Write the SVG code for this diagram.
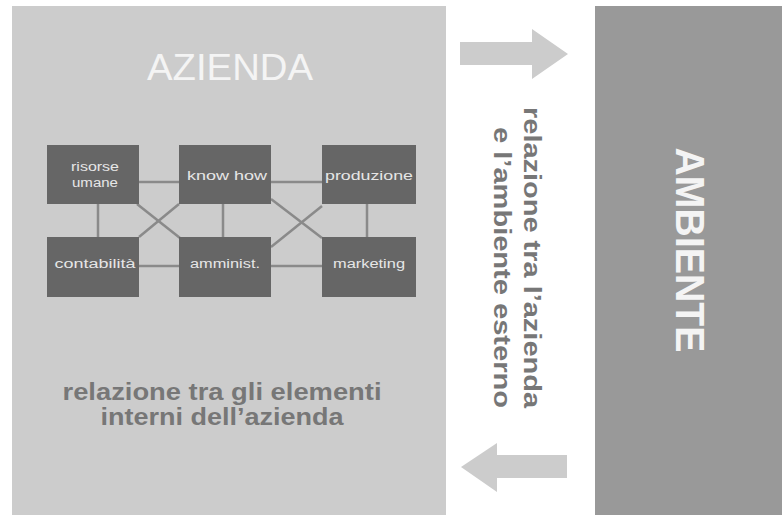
<svg xmlns="http://www.w3.org/2000/svg" width="782" height="515" viewBox="0 0 782 515">
<style>
.node rect{fill:#666666}
.node text{fill:#e6e6e6;font-family:"Liberation Sans",Arial,sans-serif;font-size:12px;text-anchor:middle}
.conn line{stroke:#8a8a8a;stroke-width:2.5}
.label{fill:#777777;font-family:"Liberation Sans",Arial,sans-serif;font-weight:bold}
.arrow{fill:#cccccc}
</style>
<rect width="782" height="515" fill="#ffffff"/>
<g id="azienda">
<rect x="12" y="6" width="434" height="509" fill="#cccccc"/>
<text x="230" y="80" font-family="'Liberation Sans',Arial,sans-serif" font-size="37" fill="#f4f4f4" text-anchor="middle" textLength="166" lengthAdjust="spacingAndGlyphs">AZIENDA</text>
<text class="label" x="222" y="400" font-size="23" text-anchor="middle" textLength="319" lengthAdjust="spacingAndGlyphs">relazione tra gli elementi</text>
<text class="label" x="222" y="425" font-size="23" text-anchor="middle" textLength="243" lengthAdjust="spacingAndGlyphs">interni dell’azienda</text>
</g>
<g id="ambiente">
<rect x="595" y="6" width="187" height="509" fill="#999999"/>
<text transform="translate(676,250) rotate(90)" x="0" y="0" font-family="'Liberation Sans',Arial,sans-serif" font-weight="bold" font-size="40" fill="#f4f4f4" text-anchor="middle" textLength="205" lengthAdjust="spacingAndGlyphs">AMBIENTE</text>
</g>
<g id="relazione-esterna">
<polygon class="arrow" points="460,42 532,42 532,29 568,54 532,79 532,65 460,65"/>
<polygon class="arrow" points="567,455 497,455 497,443 461,467 497,492 497,478 567,478"/>
<text class="label" transform="translate(524,408) rotate(90)" font-size="24" text-anchor="end" textLength="301" lengthAdjust="spacingAndGlyphs">relazione tra l’azienda</text>
<text class="label" transform="translate(494,408) rotate(90)" font-size="24" text-anchor="end" textLength="281" lengthAdjust="spacingAndGlyphs">e l’ambiente esterno</text>
</g>
<g id="connectors" class="conn">
<line x1="139" y1="182" x2="179" y2="182"/>
<line x1="271" y1="182" x2="322" y2="182"/>
<line x1="139" y1="266" x2="179" y2="266"/>
<line x1="271" y1="266" x2="322" y2="266"/>
<line x1="98" y1="204" x2="98" y2="237"/>
<line x1="223" y1="204" x2="223" y2="237"/>
<line x1="367" y1="204" x2="367" y2="237"/>
<line x1="137" y1="204" x2="180" y2="238"/>
<line x1="179" y1="204" x2="139" y2="237"/>
<line x1="271" y1="199" x2="322" y2="238"/>
<line x1="322" y1="206" x2="271" y2="247"/>
</g>
<g id="risorse-umane" class="node">
<rect x="47" y="145" width="92" height="59"/>
<text x="95" y="171" textLength="48" lengthAdjust="spacingAndGlyphs">risorse</text>
<text x="95" y="187" textLength="46" lengthAdjust="spacingAndGlyphs">umane</text>
</g>
<g id="know-how" class="node">
<rect x="179" y="145" width="92" height="59"/>
<text x="227" y="180" textLength="80" lengthAdjust="spacingAndGlyphs">know how</text>
</g>
<g id="produzione" class="node">
<rect x="322" y="145" width="94" height="59"/>
<text x="369" y="180" textLength="88" lengthAdjust="spacingAndGlyphs">produzione</text>
</g>
<g id="contabilita" class="node">
<rect x="47" y="237" width="92" height="60"/>
<text x="95" y="268" textLength="81" lengthAdjust="spacingAndGlyphs">contabilità</text>
</g>
<g id="amminist" class="node">
<rect x="179" y="237" width="92" height="60"/>
<text x="225" y="268" textLength="70" lengthAdjust="spacingAndGlyphs">amminist.</text>
</g>
<g id="marketing" class="node">
<rect x="322" y="237" width="94" height="60"/>
<text x="369" y="268" textLength="72" lengthAdjust="spacingAndGlyphs">marketing</text>
</g>
</svg>
